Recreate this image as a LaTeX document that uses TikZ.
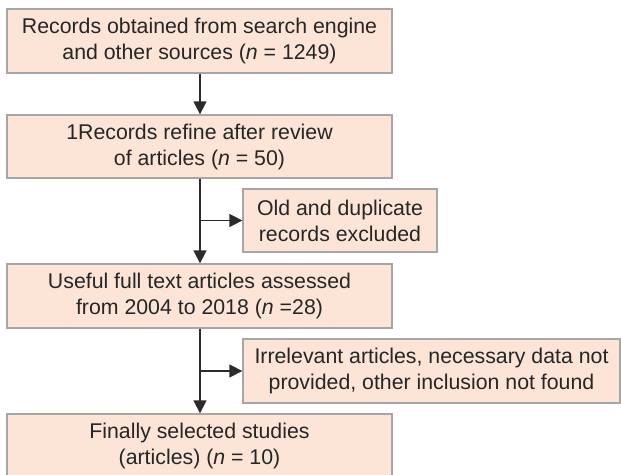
\documentclass[tikz,border=0pt]{standalone}
\usepackage{fontspec}
\setmainfont{Liberation Sans}
\usetikzlibrary{arrows.meta}
\definecolor{boxfill}{HTML}{FCE4D6}
\definecolor{boxline}{HTML}{A6A6A6}
\definecolor{arrowcol}{HTML}{2B2B2B}
\begin{document}
\begin{tikzpicture}[x=1pt,y=-1pt,
  flowbox/.style={draw=boxline, line width=1.3pt, fill=boxfill, align=center,
    inner sep=0pt, font=\fontsize{21.3}{26}\selectfont, text=black!85},
  flowarrow/.style={draw=arrowcol, line width=1.4pt, -{Triangle[length=13pt,width=13pt]}}]
\useasboundingbox (0,0) rectangle (621,474);
\node[flowbox, minimum width=385pt, minimum height=64pt] (b1) at (199.5,41)
  {Records obtained from search engine\\and other sources (\textit{n} = 1249)};
\node[flowbox, minimum width=385pt, minimum height=63pt] (b2) at (199.5,146.5)
  {1Records refine after review\\of articles (\textit{n} = 50)};
\node[flowbox, minimum width=194pt, minimum height=63pt] (s1) at (340,220.5)
  {Old and duplicate\\records excluded};
\node[flowbox, minimum width=385pt, minimum height=64pt] (b3) at (199.5,296)
  {Useful full text articles assessed\\from 2004 to 2018 (\textit{n} =28)};
\node[flowbox, minimum width=377pt, minimum height=64pt] (s2) at (431.5,371)
  {Irrelevant articles, necessary data not\\provided, other inclusion not found};
\node[flowbox, minimum width=385pt, minimum height=64pt] (b4) at (199.5,446)
  {Finally selected studies\\(articles) (\textit{n} = 10)};
\draw[flowarrow] ([xshift=0.5pt]b1.south) -- ([xshift=0.5pt]b2.north);
\draw[flowarrow] ([xshift=0.5pt]b2.south) -- ([xshift=0.5pt]b3.north);
\draw[flowarrow] ([xshift=0.5pt]b3.south) -- ([xshift=0.5pt]b4.north);
\coordinate (j1) at ([xshift=0.5pt]b2.south |- s1.west);
\coordinate (j2) at ([xshift=0.5pt]b3.south |- s2.west);
\draw[flowarrow] (j1) -- (s1.west);
\draw[flowarrow] (j2) -- (s2.west);
\end{tikzpicture}
\end{document}
